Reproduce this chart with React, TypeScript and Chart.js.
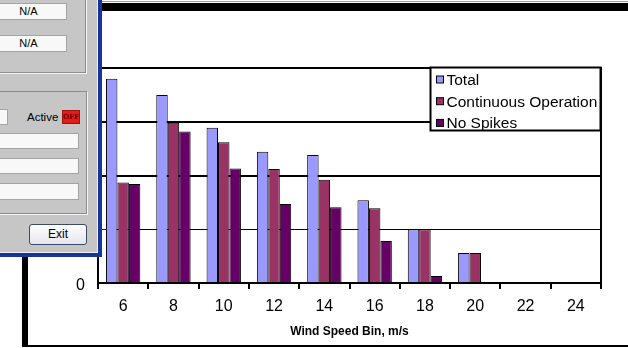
import React, { useEffect, useRef } from "react";
import { Chart, registerables } from "chart.js";

Chart.register(...registerables);

const categories = ["6", "8", "10", "12", "14", "16", "18", "20", "22", "24"];
const totalValues = [3.8, 3.5, 2.89, 2.44, 2.38, 1.54, 1.0, 0.56, null, null];
const continuousValues = [1.87, 2.98, 2.62, 2.12, 1.92, 1.39, 1.0, 0.56, null, null];
const noSpikesValues = [1.84, 2.82, 2.13, 1.47, 1.41, 0.78, 0.13, null, null, null];
const seriesNames = ["Total", "Continuous Operation", "No Spikes"];
const seriesColors = ["#9999FF", "#993366", "#660066"];
const yMin = 0;
const yMax = 4;
const yStep = 1;
const xAxisTitle = "Wind Speed Bin, m/s";

const FONT = "'Liberation Sans', Arial, sans-serif";

const boxLegendPlugin = {
  id: "boxLegend",
  afterDraw(chart: any) {
    const ctx = chart.ctx;
    const { right, top, bottom } = chart.chartArea;
    ctx.save();
    // plot right border
    ctx.strokeStyle = "#000";
    ctx.lineWidth = 2;
    ctx.beginPath();
    ctx.moveTo(right, top - 1);
    ctx.lineTo(right, bottom + 6);
    ctx.stroke();
    // legend box
    const w = 170;
    const h = 63;
    const x = right - w - 0.5;
    const y = top - 0.5;
    ctx.fillStyle = "#fff";
    ctx.fillRect(x, y, w, h);
    ctx.lineWidth = 2;
    ctx.strokeRect(x, y, w, h);
    ctx.font = "15.5px " + FONT;
    ctx.textBaseline = "alphabetic";
    ctx.textAlign = "left";
    chart.data.datasets.forEach((ds: any, i: number) => {
      const cy = y + 12 + i * 21.7;
      ctx.fillStyle = ds.backgroundColor;
      ctx.fillRect(x + 6, cy - 3.5, 7, 7);
      ctx.lineWidth = 1;
      ctx.strokeStyle = "#000";
      ctx.strokeRect(x + 6, cy - 3.5, 7, 7);
      ctx.fillStyle = "#000";
      ctx.fillText(ds.label, x + 16, cy + 5.5);
    });
    ctx.restore();
  },
};

const abs = (s: React.CSSProperties): React.CSSProperties => ({ position: "absolute", boxSizing: "border-box", ...s });

function Dialog() {
  const field = (top: number, width: number, height: number, text?: string) => (
    <div
      style={abs({
        left: -10,
        top,
        width,
        height,
        background: "#f8f8f8",
        border: "1px solid #a4a4a4",
        textAlign: "center",
        lineHeight: height - 2 + "px",
        fontSize: 11,
        color: "#000",
      })}
    >
      {text}
    </div>
  );
  return (
    <div
      style={abs({
        left: 0,
        top: 0,
        width: 102,
        height: 257,
        background: "#c6c6c6",
        borderRight: "4px solid #17349a",
        borderBottom: "4px solid #17349a",
        boxShadow: "inset -1px -1px 0 #eeeeee",
        overflow: "hidden",
        fontFamily: FONT,
      })}
    >
      <div style={abs({ left: -10, top: -10, width: 96, height: 83, border: "1px solid #8c8c8c", boxShadow: "1px 1px 0 #f4f4f4" })} />
      {field(3, 77, 17, "N/A")}
      {field(35, 77, 17, "N/A")}
      <div style={abs({ left: -10, top: 91, width: 97, height: 123, border: "1px solid #8c8c8c", boxShadow: "1px 1px 0 #f4f4f4" })} />
      {field(109, 18, 16)}
      <div style={abs({ left: 27, top: 110, height: 14, lineHeight: "14px", fontSize: 11.5, color: "#000" })}>Active</div>
      <div
        style={abs({
          left: 62,
          top: 110,
          width: 18,
          height: 14,
          background: "#e41c1c",
          border: "1px solid #a01010",
          color: "#6a0000",
          fontSize: 7,
          lineHeight: "12px",
          textAlign: "center",
          fontFamily: "'DejaVu Serif', serif",
          fontWeight: "bold",
        })}
      >
        OFF
      </div>
      {field(133, 89, 16)}
      {field(158, 89, 16)}
      {field(183, 89, 17)}
      <div
        style={abs({
          left: 29,
          top: 224,
          width: 58,
          height: 21,
          border: "1px solid #3c4a6a",
          borderRadius: 3,
          background: "linear-gradient(#fefefe, #e6e6ee)",
          textAlign: "center",
          lineHeight: "19px",
          fontSize: 12,
          color: "#000",
        })}
      >
        Exit
      </div>
    </div>
  );
}

export default function App() {
  const ref = useRef<HTMLCanvasElement>(null);
  useEffect(() => {
    if (!ref.current) return;
    const chart = new Chart(ref.current, {
      type: "bar",
      data: {
        labels: categories,
        datasets: [
          { label: seriesNames[0], data: totalValues, backgroundColor: seriesColors[0], borderColor: "#000", borderWidth: 1 },
          { label: seriesNames[1], data: continuousValues, backgroundColor: seriesColors[1], borderColor: "#000", borderWidth: 1 },
          { label: seriesNames[2], data: noSpikesValues, backgroundColor: seriesColors[2], borderColor: "#000", borderWidth: 1 },
        ],
      } as any,
      options: {
        responsive: false,
        animation: false,
        devicePixelRatio: 1,
        layout: { padding: { left: 0, right: 27, top: 68, bottom: 5 } },
        datasets: { bar: { categoryPercentage: 0.683, barPercentage: 1 } },
        plugins: { legend: { display: false }, tooltip: { enabled: false }, title: { display: false } },
        scales: {
          x: {
            grid: { display: true, drawOnChartArea: false, drawTicks: true, tickLength: 6, color: "#000", lineWidth: 2, offset: true },
            border: { display: true, color: "#000", width: 2 },
            ticks: { color: "#000", font: { size: 16, family: FONT }, padding: 8, maxRotation: 0, autoSkip: false },
            title: { display: true, text: xAxisTitle, color: "#000", font: { size: 12, weight: "bold", family: FONT }, padding: { top: 4, bottom: 4 } },
            afterFit: (s: any) => {
              s.height = 60;
            },
          },
          y: {
            min: yMin,
            max: yMax,
            ticks: { stepSize: yStep, color: "#000", font: { size: 16, family: FONT }, padding: 13, labelOffset: 3 },
            grid: {
              color: "#000",
              lineWidth: (c: any) => (c.tick && c.tick.value === 1 ? 1 : 2),
              drawTicks: false,
            },
            border: { display: true, color: "#000", width: 2 },
            afterFit: (s: any) => {
              s.width = 98;
            },
          },
        },
      } as any,
      plugins: [boxLegendPlugin],
    });
    return () => chart.destroy();
  }, []);

  return (
    <div style={{ position: "fixed", left: 0, top: 0, width: 628, height: 348, background: "#fff", overflow: "hidden" }}>
      <canvas ref={ref} width={628} height={348} style={{ position: "absolute", left: 0, top: 0, width: 628, height: 348 }} />
      <div style={abs({ left: 102, top: 1, width: 526, height: 1, background: "#9a9a9a" })} />
      <div style={abs({ left: 102, top: 3, width: 526, height: 8, background: "#000" })} />
      <div style={abs({ left: 22, top: 257, width: 6, height: 90, background: "#000" })} />
      <div style={abs({ left: 22, top: 345, width: 606, height: 2, background: "#000" })} />
      <Dialog />
    </div>
  );
}
